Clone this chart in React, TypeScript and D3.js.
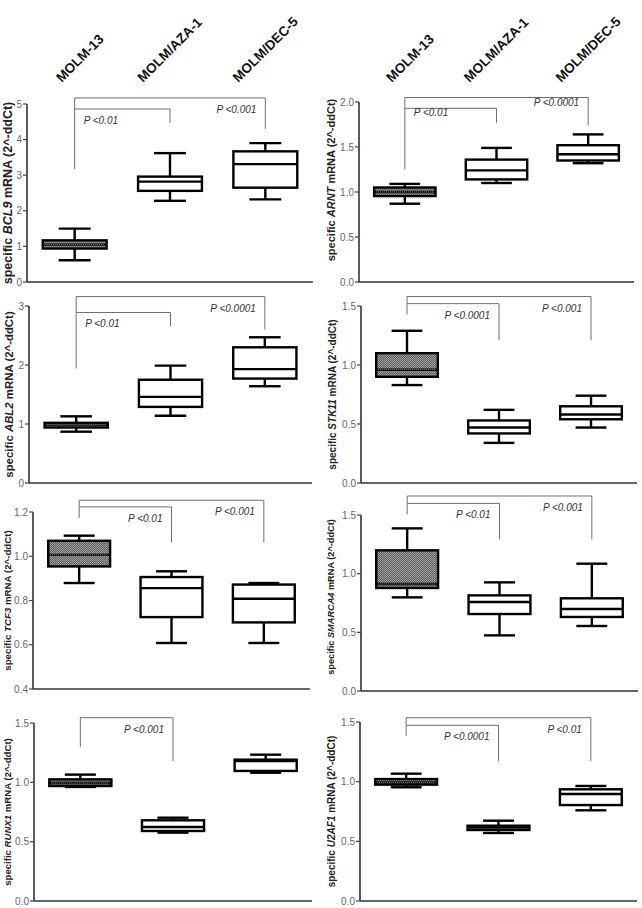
import React from 'react';
import * as d3 from 'd3';

const groups = ['MOLM-13', 'MOLM/AZA-1', 'MOLM/DEC-5'];
const genes = ['BCL9', 'ARNT', 'ABL2', 'STK11', 'TCF3', 'SMARCA4', 'RUNX1', 'U2AF1'];

// box summaries per group: [min, q1, median, q3, max]
const bcl9 = [[0.61, 0.94, 1.05, 1.17, 1.5], [2.28, 2.56, 2.82, 2.96, 3.62], [2.32, 2.65, 3.31, 3.67, 3.9]];
const arnt = [[0.87, 0.955, 1.0, 1.05, 1.09], [1.1, 1.14, 1.24, 1.36, 1.49], [1.32, 1.35, 1.42, 1.52, 1.64]];
const abl2 = [[0.87, 0.94, 0.99, 1.02, 1.13], [1.14, 1.29, 1.46, 1.75, 1.99], [1.64, 1.77, 1.93, 2.3, 2.47]];
const stk11 = [[0.83, 0.9, 0.96, 1.1, 1.29], [0.34, 0.42, 0.47, 0.53, 0.62], [0.47, 0.54, 0.58, 0.65, 0.74]];
const tcf3 = [[0.879, 0.954, 1.006, 1.07, 1.093], [0.608, 0.725, 0.856, 0.906, 0.932], [0.608, 0.701, 0.808, 0.872, 0.879]];
const smarca4 = [[0.798, 0.878, 0.912, 1.199, 1.386], [0.474, 0.656, 0.759, 0.815, 0.926], [0.554, 0.631, 0.699, 0.79, 1.085]];
const runx1 = [[0.961, 0.969, 0.994, 1.025, 1.065], [0.576, 0.59, 0.624, 0.68, 0.702], [1.081, 1.096, 1.18, 1.191, 1.233]];
const u2af1 = [[0.953, 0.975, 0.994, 1.022, 1.067], [0.57, 0.595, 0.615, 0.631, 0.673], [0.76, 0.804, 0.897, 0.936, 0.964]];
const boxData = [bcl9, arnt, abl2, stk11, tcf3, smarca4, runx1, u2af1];

const yDomains = [[0, 5], [0, 2], [0, 3], [0, 1.5], [0.4, 1.2], [0, 1.5], [0, 1.5], [0, 1.5]];
const yTicks = [
  [0, 1, 2, 3, 4, 5],
  [0, 0.5, 1, 1.5, 2],
  [0, 1, 2, 3],
  [0, 0.5, 1, 1.5],
  [0.4, 0.6, 0.8, 1.0, 1.2],
  [0, 0.5, 1, 1.5],
  [0, 0.5, 1, 1.5],
  [0, 0.5, 1, 1.5],
];
const tickFormats = ['d', '.1f', 'd', '.1f', '.1f', '.1f', '.1f', '.1f'];

// significance brackets vs MOLM-13: bar height, end of right leg (data units), label
const bcl9Tests = [{ to: 2, bar: 5.17, drop: 4.3, p: 'P <0.001' }, { to: 1, bar: 4.86, drop: 4.47, p: 'P <0.01' }];
const arntTests = [{ to: 2, bar: 2.05, drop: 1.74, p: 'P <0.0001' }, { to: 1, bar: 1.93, drop: 1.77, p: 'P <0.01' }];
const abl2Tests = [{ to: 2, bar: 3.16, drop: 2.6, p: 'P <0.0001' }, { to: 1, bar: 2.89, drop: 2.66, p: 'P <0.01' }];
const stk11Tests = [{ to: 2, bar: 1.58, drop: 1.21, p: 'P <0.001' }, { to: 1, bar: 1.52, drop: 1.21, p: 'P <0.0001' }];
const tcf3Tests = [{ to: 2, bar: 1.253, drop: 1.063, p: 'P <0.001' }, { to: 1, bar: 1.223, drop: 1.063, p: 'P <0.01' }];
const smarca4Tests = [{ to: 2, bar: 1.662, drop: 1.293, p: 'P <0.001' }, { to: 1, bar: 1.599, drop: 1.293, p: 'P <0.01' }];
const runx1Tests = [{ to: 1, bar: 1.545, drop: 1.18, p: 'P <0.001' }];
const u2af1Tests = [{ to: 2, bar: 1.536, drop: 1.173, p: 'P <0.01' }, { to: 1, bar: 1.472, drop: 1.173, p: 'P <0.0001' }];
const tests = [bcl9Tests, arntTests, abl2Tests, stk11Tests, tcf3Tests, smarca4Tests, runx1Tests, u2af1Tests];
// lower end of the shared left leg above MOLM-13
const legEnds = [3.17, 1.25, 1.94, 1.43, 1.173, 1.506, 1.298, 1.383];

// panel frames in page pixels
const panels = [
  { x0: 27, x1: 313, top: 104, bottom: 282, titleX: 8, titleSize: 12.5, titleDy: 0, pDy: 15, innerStart: true },
  { x0: 359, x1: 634, top: 102, bottom: 282, titleX: 331, titleSize: 11, titleDy: -12, pDy: 8, innerStart: true },
  { x0: 29, x1: 312, top: 306, bottom: 483, titleX: 9, titleSize: 11.4, titleDy: 0, pDy: 15, innerStart: true },
  { x0: 361, x1: 637, top: 306, bottom: 483, titleX: 332, titleSize: 10, titleDy: 0, pDy: 15, innerStart: false },
  { x0: 33, x1: 310, top: 512, bottom: 689, titleX: 8, titleSize: 9.7, titleDy: 0, pDy: 15, innerStart: false },
  { x0: 361, x1: 638, top: 515, bottom: 691, titleX: 331, titleSize: 9.2, titleDy: -6, pDy: 15, innerStart: false },
  { x0: 34, x1: 312, top: 723, bottom: 901, titleX: 8, titleSize: 9.6, titleDy: 0, pDy: 15, innerStart: false },
  { x0: 360, x1: 637, top: 722, bottom: 901, titleX: 331, titleSize: 10, titleDy: 0, pDy: 15, innerStart: false },
];

const headerShift = [-13, -27, -27];
const FONT = 'Arial, "Liberation Sans", Helvetica, sans-serif';

function Panel({ idx }: { idx: number }) {
  const frame = panels[idx];
  const x = d3.scaleBand().domain(groups).range([frame.x0, frame.x1]).padding(0);
  const y = d3.scaleLinear().domain(yDomains[idx]).range([frame.bottom, frame.top]);
  const fmt = d3.format(tickFormats[idx]);
  const cx = (g: string) => (x(g) as number) + x.bandwidth() / 2;
  const bw = x.bandwidth() * 0.67;
  const cap = bw / 2;
  const leftX = cx(groups[0]);
  const panelTests = tests[idx];
  const topBar = d3.max(panelTests, (t) => t.bar) as number;
  const titleY = (frame.top + frame.bottom) / 2 + frame.titleDy;

  return (
    <g>
      {/* boxes */}
      {boxData[idx].map((s, i) => {
        const c = cx(groups[i]);
        const [mn, q1, med, q3, mx] = s;
        const ref = i === 0;
        return (
          <g key={i} stroke="#000" strokeWidth={2.4} fill="none">
            <line x1={c} x2={c} y1={y(mx)} y2={y(q3)} />
            <line x1={c} x2={c} y1={y(q1)} y2={y(mn)} />
            <line x1={c - cap / 2} x2={c + cap / 2} y1={y(mx)} y2={y(mx)} />
            <line x1={c - cap / 2} x2={c + cap / 2} y1={y(mn)} y2={y(mn)} />
            <rect
              x={c - bw / 2}
              y={y(q3)}
              width={bw}
              height={y(q1) - y(q3)}
              fill={ref ? 'url(#dots)' : '#fff'}
            />
            <line x1={c - bw / 2} x2={c + bw / 2} y1={y(med)} y2={y(med)} />
            {ref && (
              <line
                x1={c - bw / 2 + 2}
                x2={c + bw / 2 - 2}
                y1={y(med)}
                y2={y(med)}
                stroke="#ccc"
                strokeWidth={0.8}
                strokeDasharray="1 1"
              />
            )}
          </g>
        );
      })}

      {/* brackets */}
      <g stroke="#6f6f6f" strokeWidth={1} fill="none">
        <line x1={leftX} x2={leftX} y1={y(topBar)} y2={y(legEnds[idx])} />
        {panelTests.map((t, k) => {
          const rx = cx(groups[t.to]);
          return (
            <g key={k}>
              <line x1={leftX} x2={rx} y1={y(t.bar)} y2={y(t.bar)} />
              <line x1={rx} x2={rx} y1={y(t.bar)} y2={y(t.drop)} />
            </g>
          );
        })}
      </g>
      {panelTests.map((t, k) => {
        const rx = cx(groups[t.to]);
        const atStart = frame.innerStart && t.to === 1;
        return (
          <text
            key={k}
            x={atStart ? leftX + 9 : rx - 9}
            y={y(t.bar) + frame.pDy}
            textAnchor={atStart ? 'start' : 'end'}
            fontSize={10}
            fontStyle="italic"
            fill="#333"
            fontFamily={FONT}
          >
            {t.p}
          </text>
        );
      })}

      {/* axes */}
      <line x1={frame.x0} x2={frame.x1} y1={frame.bottom} y2={frame.bottom} stroke="#333" strokeWidth={1.6} />
      <line x1={frame.x0} x2={frame.x0} y1={frame.top} y2={frame.bottom} stroke="#333" strokeWidth={1.6} />
      {yTicks[idx].map((v) => (
        <g key={v}>
          <line x1={frame.x0 - 4} x2={frame.x0} y1={y(v)} y2={y(v)} stroke="#444" strokeWidth={1.2} />
          <text
            x={frame.x0 - 5}
            y={y(v)}
            dy="0.35em"
            textAnchor="end"
            fontSize={10}
            fill="#666"
            fontFamily={FONT}
          >
            {fmt(v)}
          </text>
        </g>
      ))}
      <g transform={`translate(${frame.titleX},${titleY}) rotate(-90)`}>
        <text
          textAnchor="middle"
          dy="0.35em"
          fontSize={frame.titleSize}
          fontWeight="bold"
          fill="#222"
          fontFamily={FONT}
        >
          specific <tspan fontStyle="italic">{genes[idx]}</tspan> mRNA (2^-ddCt)
        </text>
      </g>

      {/* slanted column headers on the top row */}
      {idx < 2 &&
        groups.map((g, i) => (
          <text
            key={g}
            transform={`translate(${cx(g) + headerShift[i]},83) rotate(-45)`}
            fontSize={13.5}
            fontWeight="bold"
            fill="#111"
            fontFamily={FONT}
          >
            {g}
          </text>
        ))}
    </g>
  );
}

export default function App() {
  return (
    <svg
      width={642}
      height={908}
      viewBox="0 0 642 908"
      style={{ position: 'absolute', left: 0, top: 0, background: '#fff' }}
    >
      <defs>
        <pattern id="dots" width={2} height={2} patternUnits="userSpaceOnUse">
          <rect width={2} height={2} fill="#5e5e5e" />
          <rect width={1} height={1} fill="#a8a8a8" />
          <rect x={1} y={1} width={1} height={1} fill="#949494" />
        </pattern>
      </defs>
      <rect width={642} height={908} fill="#fff" />
      {genes.map((_, i) => (
        <Panel key={i} idx={i} />
      ))}
    </svg>
  );
}
